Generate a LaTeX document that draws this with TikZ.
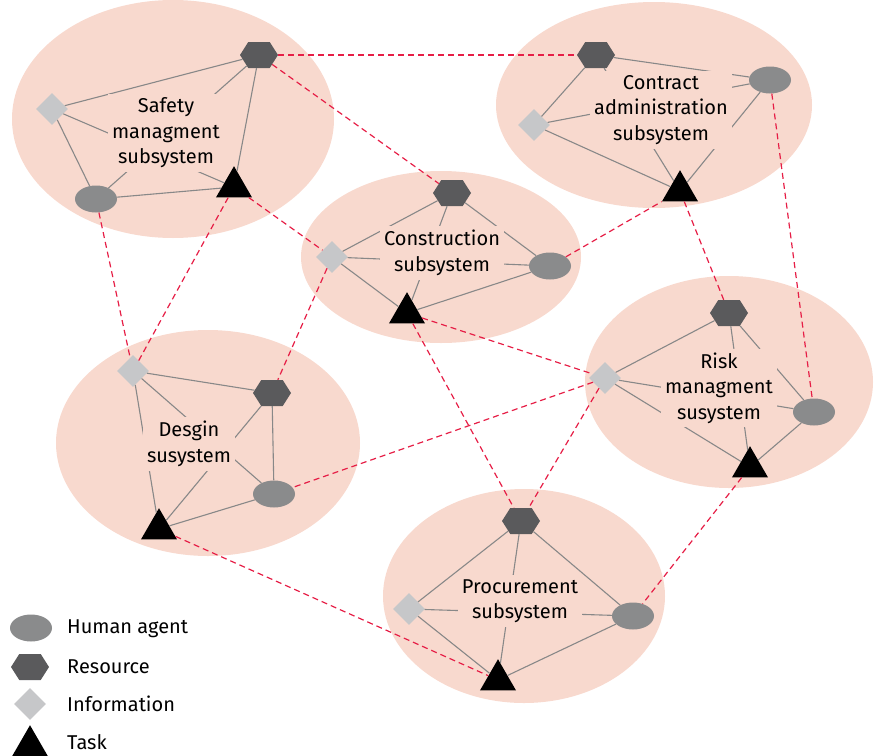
\documentclass[tikz,border=0pt]{standalone}
\usepackage{fontspec}
\setmainfont{Fira Sans}
\usetikzlibrary{shapes.geometric,shapes.symbols}
\definecolor{subpink}{RGB}{248,217,206}
\definecolor{resgray}{RGB}{90,90,92}
\definecolor{humgray}{RGB}{138,139,140}
\definecolor{infogray}{RGB}{198,199,201}
\definecolor{linkgray}{RGB}{136,136,136}
\definecolor{linkred}{RGB}{230,30,70}

\tikzset{
  subsys/.style={ellipse,fill=subpink,inner sep=0pt},
  human/.style={ellipse,fill=humgray,minimum width=42pt,minimum height=27pt,inner sep=0pt},
  resource/.style={signal,signal to=east and west,signal pointer angle=115,fill=resgray,
    minimum width=38pt,minimum height=26pt,inner sep=0pt},
  info/.style={diamond,fill=infogray,minimum width=32pt,minimum height=32pt,inner sep=0pt},
  task/.style={regular polygon,regular polygon sides=3,fill=black,minimum size=41.6pt,inner sep=0pt},
  intra/.style={draw=linkgray,line width=1.1pt},
  inter/.style={draw=linkred,line width=1.2pt,dash pattern=on 6pt off 4pt},
  sublabel/.style={fill=subpink,align=center,inner sep=4pt,font=\fontsize{20}{25.5}\selectfont},
  legendtext/.style={anchor=west,inner sep=0pt,font=\fontsize{20}{25}\selectfont}
}

\begin{document}
\begin{tikzpicture}[x=1pt,y=-1pt]
  \useasboundingbox (0,0) rectangle (878,755);

  % subsystems
  \node[subsys,minimum width=322pt,minimum height=238pt] (safety) at (173,119) {};
  \node[subsys,minimum width=316pt,minimum height=206pt] (contract) at (654,105) {};
  \node[subsys,minimum width=280pt,minimum height=172pt] (constr) at (441,257) {};
  \node[subsys,minimum width=288pt,minimum height=212pt] (risk) at (729,382) {};
  \node[subsys,minimum width=304pt,minimum height=226pt] (design) at (208,443) {};
  \node[subsys,minimum width=282pt,minimum height=214pt] (procure) at (524,596) {};

  % safety managment
  \node[resource] (safety-res) at (259,55) {};
  \node[info] (safety-info) at (52,109) {};
  \node[human] (safety-hum) at (96,199) {};
  \node[task] (safety-task) at (234,187) {};
  % contract administration
  \node[resource] (contract-res) at (596,55) {};
  \node[info] (contract-info) at (534,125) {};
  \node[human] (contract-hum) at (770,80) {};
  \node[task] (contract-task) at (680,191) {};
  % construction
  \node[resource] (constr-res) at (452,193) {};
  \node[info] (constr-info) at (332,257) {};
  \node[human] (constr-hum) at (550,266) {};
  \node[task] (constr-task) at (407,313) {};
  % risk managment
  \node[resource] (risk-res) at (729,313) {};
  \node[info] (risk-info) at (605,378) {};
  \node[human] (risk-hum) at (814,412) {};
  \node[task] (risk-task) at (750,467) {};
  % design
  \node[resource] (design-res) at (272,393) {};
  \node[info] (design-info) at (133,371) {};
  \node[human] (design-hum) at (274,494) {};
  \node[task] (design-task) at (159,529) {};
  % procurement
  \node[resource] (procure-res) at (521,521) {};
  \node[info] (procure-info) at (409,609) {};
  \node[human] (procure-hum) at (633,616) {};
  \node[task] (procure-task) at (498,680) {};

  % links inside each subsystem
  \draw[intra] (safety-res) -- (safety-info) (safety-res) -- (safety-hum) (safety-res) -- (safety-task)
    (safety-info) -- (safety-hum) (safety-info) -- (safety-task) (safety-hum) -- (safety-task);
  \draw[intra] (contract-res) -- (contract-info) (contract-res) -- (contract-hum) (contract-res) -- (contract-task)
    (contract-info) -- (contract-hum) (contract-info) -- (contract-task) (contract-hum) -- (contract-task);
  \draw[intra] (constr-res) -- (constr-info) (constr-res) -- (constr-hum) (constr-res) -- (constr-task)
    (constr-info) -- (constr-hum) (constr-info) -- (constr-task) (constr-hum) -- (constr-task);
  \draw[intra] (risk-res) -- (risk-info) (risk-res) -- (risk-hum) (risk-res) -- (risk-task)
    (risk-info) -- (risk-hum) (risk-info) -- (risk-task) (risk-hum) -- (risk-task);
  \draw[intra] (design-res) -- (design-info) (design-res) -- (design-hum) (design-res) -- (design-task)
    (design-info) -- (design-hum) (design-info) -- (design-task) (design-hum) -- (design-task);
  \draw[intra] (procure-res) -- (procure-info) (procure-res) -- (procure-hum) (procure-res) -- (procure-task)
    (procure-info) -- (procure-hum) (procure-info) -- (procure-task) (procure-hum) -- (procure-task);

  % links between subsystems
  \draw[inter] (safety-res) -- (contract-res);
  \draw[inter] (safety-res) -- (constr-res);
  \draw[inter] (safety-task) -- (constr-info);
  \draw[inter] (safety-hum) -- (design-info);
  \draw[inter] (safety-task) -- (design-info);
  \draw[inter] (constr-info) -- (design-res);
  \draw[inter] (constr-hum) -- (contract-task);
  \draw[inter] (constr-task) -- (risk-info);
  \draw[inter] (constr-task) -- (procure-res);
  \draw[inter] (contract-task) -- (risk-res);
  \draw[inter] (contract-hum) -- (risk-hum);
  \draw[inter] (risk-info) -- (design-hum);
  \draw[inter] (risk-info) -- (procure-res);
  \draw[inter] (risk-task) -- (procure-hum);
  \draw[inter] (design-task) -- (procure-task);

  % subsystem names
  \node[sublabel] (safety-lbl) at (166,133) {Safety\\managment\\subsystem};
  \node[sublabel] (contract-lbl) at (661,110) {Contract\\administration\\subsystem};
  \node[sublabel] (constr-lbl) at (442,253) {Construction\\subsystem};
  \node[sublabel] (risk-lbl) at (719,388) {Risk\\managment\\susystem};
  \node[sublabel] (design-lbl) at (189,444) {Desgin\\susystem};
  \node[sublabel] (procure-lbl) at (520,601) {Procurement\\subsystem};

  % legend
  \node[human] (key-hum) at (31,628) {};
  \node[resource] (key-res) at (30,667) {};
  \node[info] (key-info) at (30,704) {};
  \node[task] (key-task) at (30,746) {};
  \node[legendtext] at (67,629) {Human agent};
  \node[legendtext] at (67,667) {Resource};
  \node[legendtext] at (67,704) {Information};
  \node[legendtext] at (67,742) {Task};
\end{tikzpicture}
\end{document}
